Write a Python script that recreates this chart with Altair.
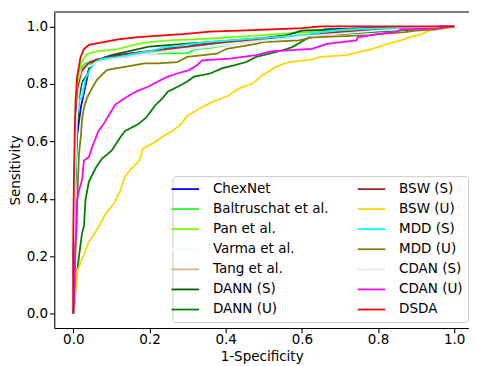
import altair as alt
import pandas as pd

# ---------------- data ----------------
names = ["ChexNet", "Baltruschat et al.", "Pan et al.", "Varma et al.", "Tang et al.",
         "DANN (S)", "DANN (U)", "BSW (S)", "BSW (U)", "MDD (S)", "MDD (U)",
         "CDAN (S)", "CDAN (U)", "DSDA"]
colors = ["#0000ff", "#22ff22", "#7cfc00", "#f0ffff", "#d2b48c",
          "#006400", "#008000", "#a52a2a", "#ffd700", "#00ffff", "#808000",
          "#e6e6fa", "#ff00ff", "#ff0000"]

chexnet_fpr = [0, 0.0, 0.005, 0.01, 0.02, 0.03, 0.036, 0.041, 0.054, 0.084, 0.127, 0.178, 0.23, 0.247, 0.3, 0.312, 0.433, 0.55, 0.62, 0.66, 0.75, 0.9, 1.0]
chexnet_tpr = [0, 0.2, 0.45, 0.62, 0.72, 0.78, 0.818, 0.852, 0.875, 0.893, 0.902, 0.91, 0.915, 0.925, 0.927, 0.937, 0.952, 0.96, 0.97, 0.99, 0.993, 0.997, 1.0]

baltruschat_fpr = [0, 0.002, 0.006, 0.01, 0.015, 0.03, 0.05, 0.1, 0.15, 0.2, 0.3, 0.32, 0.36, 0.45, 0.55, 0.65, 0.75, 0.85, 1.0]
baltruschat_tpr = [0, 0.35, 0.65, 0.78, 0.847, 0.87, 0.88, 0.89, 0.9, 0.905, 0.907, 0.92, 0.925, 0.945, 0.96, 0.975, 0.985, 0.993, 1.0]

pan_fpr = [0, 0.002, 0.006, 0.012, 0.019, 0.036, 0.062, 0.118, 0.148, 0.174, 0.213, 0.265, 0.32, 0.35, 0.45, 0.55, 0.7, 0.85, 1.0]
pan_tpr = [0, 0.4, 0.68, 0.8, 0.87, 0.904, 0.913, 0.921, 0.932, 0.94, 0.947, 0.952, 0.955, 0.957, 0.965, 0.975, 0.985, 0.993, 1.0]

varma_fpr = [0, 0.003, 0.008, 0.015, 0.025, 0.04, 0.07, 0.12, 0.2, 0.3, 0.4, 0.5, 0.6, 0.7, 0.8, 0.9, 1.0]
varma_tpr = [0, 0.4, 0.68, 0.8, 0.85, 0.87, 0.885, 0.895, 0.91, 0.925, 0.94, 0.955, 0.965, 0.978, 0.986, 0.994, 1.0]

tang_fpr = [0, 0.003, 0.008, 0.015, 0.025, 0.04, 0.06, 0.1, 0.15, 0.2, 0.3, 0.4, 0.5, 0.6, 0.7, 0.8, 0.9, 1.0]
tang_tpr = [0, 0.4, 0.7, 0.8, 0.85, 0.87, 0.88, 0.89, 0.9, 0.91, 0.93, 0.945, 0.955, 0.97, 0.98, 0.985, 0.99, 1.0]

dann_s_fpr = [0, 0.003, 0.008, 0.015, 0.023, 0.036, 0.045, 0.06, 0.1, 0.15, 0.2, 0.3, 0.4, 0.5, 0.56, 0.6, 0.7, 0.85, 1.0]
dann_s_tpr = [0, 0.3, 0.6, 0.75, 0.807, 0.83, 0.865, 0.88, 0.9, 0.915, 0.93, 0.94, 0.95, 0.96, 0.97, 0.985, 0.99, 0.995, 1.0]

dann_u_fpr = [0, 0.003, 0.008, 0.015, 0.023, 0.028, 0.032, 0.041, 0.058, 0.075, 0.101, 0.123, 0.136, 0.17, 0.191, 0.204, 0.213, 0.235, 0.248, 0.274, 0.299, 0.317, 0.359, 0.39, 0.424, 0.454, 0.48, 0.515, 0.549, 0.575, 0.597, 0.63, 0.72, 0.78, 0.9, 1.0]
dann_u_tpr = [0, 0.03, 0.122, 0.2, 0.28, 0.305, 0.396, 0.46, 0.505, 0.539, 0.568, 0.613, 0.636, 0.659, 0.682, 0.705, 0.722, 0.751, 0.773, 0.79, 0.808, 0.825, 0.836, 0.854, 0.865, 0.876, 0.894, 0.905, 0.917, 0.928, 0.945, 0.97, 0.975, 0.98, 0.99, 1.0]

bsw_s_fpr = [0, 0.003, 0.008, 0.015, 0.025, 0.04, 0.06, 0.1, 0.15, 0.2, 0.3, 0.4, 0.5, 0.6, 0.7, 0.8, 0.9, 1.0]
bsw_s_tpr = [0, 0.42, 0.7, 0.8, 0.85, 0.872, 0.884, 0.895, 0.905, 0.915, 0.93, 0.945, 0.958, 0.968, 0.98, 0.988, 0.995, 1.0]

bsw_u_fpr = [0, 0.004, 0.01, 0.023, 0.041, 0.066, 0.084, 0.105, 0.123, 0.135, 0.153, 0.174, 0.183, 0.213, 0.239, 0.26, 0.282, 0.299, 0.334, 0.368, 0.403, 0.437, 0.472, 0.498, 0.532, 0.566, 0.61, 0.627, 0.648, 0.717, 0.752, 0.786, 0.825, 0.86, 0.881, 0.915, 0.933, 0.959, 0.997, 1.0]
bsw_u_tpr = [0, 0.047, 0.146, 0.19, 0.25, 0.3, 0.345, 0.38, 0.425, 0.476, 0.506, 0.533, 0.575, 0.596, 0.62, 0.636, 0.659, 0.688, 0.716, 0.739, 0.756, 0.785, 0.802, 0.831, 0.859, 0.876, 0.882, 0.885, 0.894, 0.9, 0.911, 0.922, 0.939, 0.951, 0.962, 0.973, 0.985, 0.99, 0.997, 1.0]

mdd_s_fpr = [0, 0.002, 0.005, 0.01, 0.015, 0.023, 0.032, 0.045, 0.058, 0.075, 0.118, 0.161, 0.204, 0.239, 0.273, 0.35, 0.5, 0.6, 0.68, 0.72, 0.85, 1.0]
mdd_s_tpr = [0, 0.2, 0.45, 0.69, 0.74, 0.755, 0.818, 0.852, 0.875, 0.887, 0.893, 0.904, 0.915, 0.927, 0.932, 0.945, 0.96, 0.97, 0.985, 0.99, 0.995, 1.0]

mdd_u_fpr = [0, 0.003, 0.008, 0.012, 0.015, 0.02, 0.023, 0.028, 0.036, 0.049, 0.062, 0.075, 0.088, 0.11, 0.136, 0.161, 0.187, 0.222, 0.273, 0.299, 0.377, 0.403, 0.48, 0.498, 0.592, 0.627, 0.78, 0.80, 0.87, 0.9, 0.95, 1.0]
mdd_u_tpr = [0, 0.1, 0.3, 0.45, 0.557, 0.62, 0.676, 0.716, 0.751, 0.785, 0.814, 0.831, 0.848, 0.854, 0.859, 0.865, 0.871, 0.871, 0.876, 0.894, 0.905, 0.922, 0.939, 0.945, 0.951, 0.962, 0.97, 0.973, 0.98, 0.985, 0.99, 1.0]

cdan_s_fpr = [0, 0.003, 0.008, 0.015, 0.025, 0.04, 0.06, 0.1, 0.15, 0.2, 0.3, 0.4, 0.5, 0.6, 0.7, 0.8, 0.9, 1.0]
cdan_s_tpr = [0, 0.38, 0.66, 0.78, 0.84, 0.86, 0.875, 0.885, 0.895, 0.905, 0.92, 0.935, 0.95, 0.965, 0.975, 0.985, 0.992, 1.0]

cdan_u_fpr = [0, 0.003, 0.005, 0.008, 0.01, 0.015, 0.023, 0.028, 0.041, 0.049, 0.058, 0.066, 0.079, 0.092, 0.11, 0.136, 0.166, 0.196, 0.222, 0.248, 0.273, 0.304, 0.325, 0.338, 0.411, 0.48, 0.519, 0.592, 0.627, 0.666, 0.704, 0.743, 0.747, 0.799, 0.851, 0.86, 0.954, 0.989, 1.0]
cdan_u_tpr = [0, 0.1, 0.236, 0.282, 0.396, 0.43, 0.465, 0.533, 0.545, 0.579, 0.608, 0.636, 0.659, 0.688, 0.728, 0.751, 0.774, 0.79, 0.808, 0.825, 0.836, 0.848, 0.865, 0.882, 0.888, 0.9, 0.913, 0.919, 0.922, 0.939, 0.945, 0.951, 0.962, 0.973, 0.982, 0.99, 0.993, 0.999, 1.0]

dsda_fpr = [0, 0.0, 0.002, 0.004, 0.006, 0.01, 0.019, 0.028, 0.041, 0.075, 0.118, 0.17, 0.247, 0.286, 0.359, 0.472, 0.601, 0.65, 1.0]
dsda_tpr = [0, 0.3, 0.5, 0.65, 0.744, 0.824, 0.893, 0.921, 0.936, 0.944, 0.955, 0.963, 0.97, 0.973, 0.982, 0.987, 0.994, 1.0, 1.0]

x_ticks = [0.0, 0.2, 0.4, 0.6, 0.8, 1.0]
y_ticks = [0.0, 0.2, 0.4, 0.6, 0.8, 1.0]

series = [
    (chexnet_fpr, chexnet_tpr), (baltruschat_fpr, baltruschat_tpr), (pan_fpr, pan_tpr),
    (varma_fpr, varma_tpr), (tang_fpr, tang_tpr), (dann_s_fpr, dann_s_tpr),
    (dann_u_fpr, dann_u_tpr), (bsw_s_fpr, bsw_s_tpr), (bsw_u_fpr, bsw_u_tpr),
    (mdd_s_fpr, mdd_s_tpr), (mdd_u_fpr, mdd_u_tpr), (cdan_s_fpr, cdan_s_tpr),
    (cdan_u_fpr, cdan_u_tpr), (dsda_fpr, dsda_tpr),
]

rows = []
for name, (fx, ty) in zip(names, series):
    for i, (a, b) in enumerate(zip(fx, ty)):
        rows.append({"method": name, "fpr": a, "tpr": b, "idx": i})
df = pd.DataFrame(rows)

W, H = 421, 320.7
FONT = "DejaVu Sans"
FS = 13.7

color_enc = alt.Color(
    "method:N",
    scale=alt.Scale(domain=names, range=colors),
    legend=alt.Legend(
        title=None, orient="none", legendX=120, legendY=166.6, columns=2,
        symbolType="M-2,0H2", symbolSize=196, symbolStrokeWidth=1.8,
        labelFont=FONT, labelFontSize=FS, labelColor="black", labelOffset=20,
        labelLimit=0, columnPadding=25, rowPadding=5.4, padding=5,
        strokeColor="#cccccc", fillColor="white", cornerRadius=3,
    ),
)

x_enc = alt.X("fpr:Q", scale=alt.Scale(domain=[-0.0499, 1.0388], nice=False, zero=False),
              axis=alt.Axis(values=x_ticks, format=".1f", title="1-Specificity",
                            labelPadding=0.5, titlePadding=3))
y_enc = alt.Y("tpr:Q", scale=alt.Scale(domain=[-0.05, 1.05], nice=False, zero=False),
              axis=alt.Axis(values=y_ticks, format=".1f", title="Sensitivity",
                            labelPadding=2, titlePadding=4))

layers = []
for name in names:
    layers.append(
        alt.Chart(df).transform_filter(alt.datum.method == name)
        .mark_line(strokeWidth=1.8)
        .encode(x=x_enc, y=y_enc, color=color_enc, order="idx:Q")
    )

top_spine = alt.Chart(pd.DataFrame({"a": [0]})).mark_rule(color="black", strokeWidth=1.1).encode(
    x=alt.value(0), x2=alt.value(W), y=alt.value(0))

chart = alt.layer(*layers, top_spine).properties(
    width=W, height=H,
    autosize=alt.AutoSizeParams(type="none"),
    padding={"left": 47, "top": 1.4, "right": 0, "bottom": 35},
).configure_view(stroke=None).configure_axis(
    grid=False, domainColor="black", domainWidth=1.1, tickColor="black", tickWidth=1.1,
    tickSize=4.8, labelFont=FONT, labelFontSize=FS, labelColor="black",
    titleFont=FONT, titleFontSize=FS, titleFontWeight="normal", titleColor="black",
)

chart.save("out.html", embed_options={"renderer": "svg", "actions": False})
